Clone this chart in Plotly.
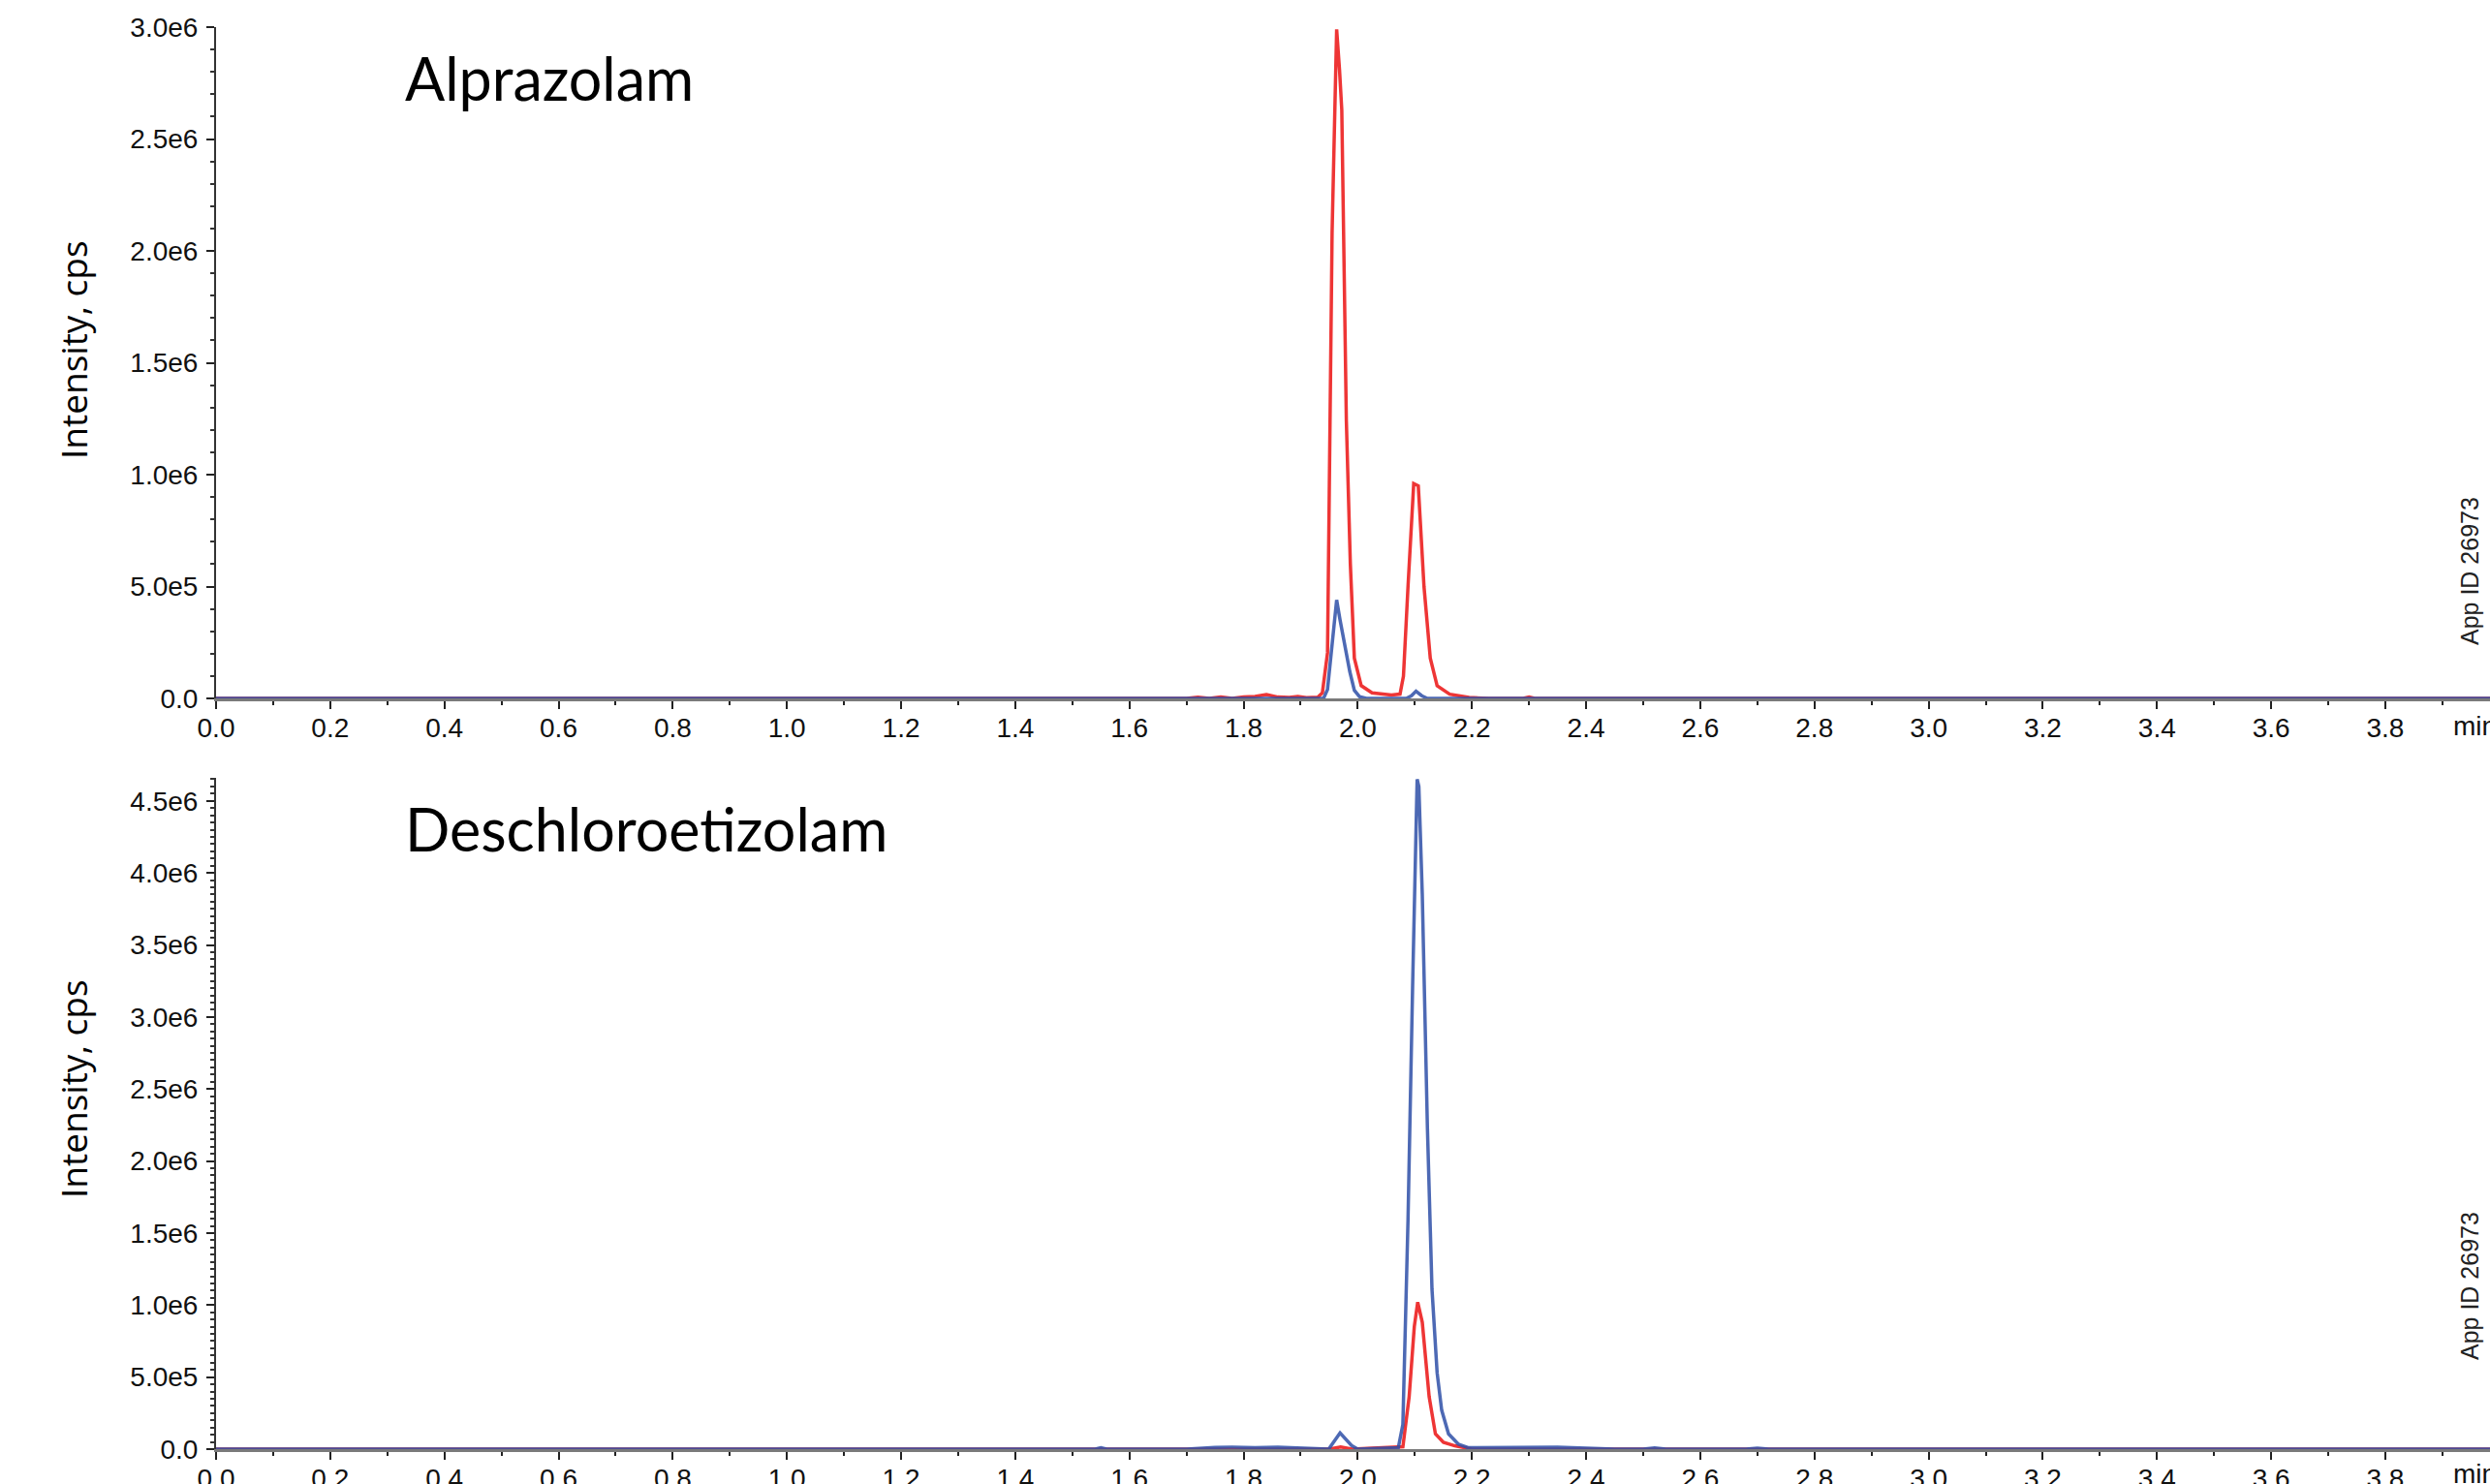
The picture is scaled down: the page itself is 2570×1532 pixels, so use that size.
import plotly.graph_objects as go

# ---------------- data (time in min, intensity in cps) ----------------
top_red_t = [0.00, 1.70, 1.72, 1.74, 1.76, 1.78, 1.80, 1.82, 1.84, 1.86, 1.88, 1.895, 1.91, 1.93,
             1.938, 1.947, 1.955, 1.963, 1.968, 1.972, 1.980, 1.987, 1.994, 2.006, 2.025, 2.059,
             2.074, 2.080, 2.088, 2.098, 2.106, 2.116, 2.127, 2.139, 2.161, 2.195, 2.23, 2.29,
             2.30, 2.31, 4.00]
top_red_v = [0, 0, 5000, 0, 6000, 0, 7000, 9000, 17000, 6000, 4000, 9000, 3000, 5000,
             25000, 204000, 2080000, 2990000, 2810000, 2630000, 1240000, 600000, 180000, 57000, 25000, 15000,
             19000, 99000, 500000, 960000, 950000, 500000, 180000, 57000, 19000, 4000, 0, 0,
             6000, 0, 0]

top_blue_t = [0.00, 1.940, 1.947, 1.955, 1.963, 1.969, 1.977, 1.986, 1.994, 2.003, 2.015,
              2.085, 2.094, 2.102, 2.112, 2.122, 4.00]
top_blue_v = [0, 0, 40000, 225000, 440000, 350000, 246000, 120000, 36000, 8000, 0,
              0, 12000, 32000, 12000, 0, 0]

bot_blue_t = [0.00, 1.54, 1.55, 1.56, 1.70, 1.72, 1.75, 1.78, 1.82, 1.86, 1.90, 1.949, 1.969, 1.989,
              2.00, 2.071, 2.079, 2.088, 2.096, 2.104, 2.107, 2.113, 2.122, 2.130, 2.139, 2.147,
              2.159, 2.176, 2.193, 2.25, 2.30, 2.35, 2.40, 2.45, 2.50, 2.52, 2.54, 2.60, 2.68,
              2.70, 2.72, 4.00]
bot_blue_v = [0, 0, 9000, 0, 0, 7000, 12000, 14000, 10000, 14000, 8000, 0, 113000, 26000,
              0, 10000, 171000, 1590000, 3200000, 4650000, 4600000, 3850000, 2230000, 1110000, 530000, 270000,
              106000, 35000, 10000, 12000, 8000, 14000, 6000, 0, 0, 8000, 0, 0, 0,
              7000, 0, 0]

bot_red_t = [0.00, 1.95, 1.97, 1.99, 2.079, 2.090, 2.099, 2.105, 2.113, 2.125, 2.136, 2.150,
             2.170, 2.20, 4.00]
bot_red_v = [0, 0, 15000, 0, 16000, 364000, 850000, 1020000, 880000, 364000, 106000, 48000,
             23000, 0, 0]

x_tickvals = [0.0, 0.2, 0.4, 0.6, 0.8, 1.0, 1.2, 1.4, 1.6, 1.8, 2.0, 2.2, 2.4, 2.6, 2.8,
              3.0, 3.2, 3.4, 3.6, 3.8]
x_ticktext = ["0.0", "0.2", "0.4", "0.6", "0.8", "1.0", "1.2", "1.4", "1.6", "1.8", "2.0",
              "2.2", "2.4", "2.6", "2.8", "3.0", "3.2", "3.4", "3.6", "3.8"]
top_y_tickvals = [0, 5e5, 1e6, 1.5e6, 2e6, 2.5e6, 3e6]
top_y_ticktext = ["0.0", "5.0e5", "1.0e6", "1.5e6", "2.0e6", "2.5e6", "3.0e6"]
bot_y_tickvals = [0, 5e5, 1e6, 1.5e6, 2e6, 2.5e6, 3e6, 3.5e6, 4e6, 4.5e6]
bot_y_ticktext = ["0.0", "5.0e5", "1.0e6", "1.5e6", "2.0e6", "2.5e6", "3.0e6", "3.5e6",
                  "4.0e6", "4.5e6"]

panel_names = ["Alprazolam", "Deschloroetizolam"]
y_title = "Intensity, cps"
app_id = "App ID 26973"
x_unit = "min"

# ---------------- styling ----------------
W, H = 2570, 1532
RED = "#ee3535"
BLUE = "#2e4fa8"
AXIS_LEFT = 223
X_RIGHT_T = (W - AXIS_LEFT) / 589.2

fig = go.Figure()
for t, v, c, xa, ya, op in [
    (top_red_t, top_red_v, RED, "x", "y", 1.0),
    (top_blue_t, top_blue_v, BLUE, "x", "y", 0.85),
    (bot_red_t, bot_red_v, RED, "x2", "y2", 1.0),
    (bot_blue_t, bot_blue_v, BLUE, "x2", "y2", 0.85),
]:
    fig.add_trace(go.Scatter(x=t, y=v, mode="lines", xaxis=xa, yaxis=ya, opacity=op,
                             line=dict(color=c, width=3.5), showlegend=False,
                             hoverinfo="skip"))

tick_font = dict(family="Liberation Sans, Arial, sans-serif", size=28, color="#111111")

def xaxis_cfg(anchor):
    return dict(domain=[AXIS_LEFT / W, 1.0], range=[0, X_RIGHT_T], anchor=anchor,
                showgrid=False, zeroline=False, showline=True, linecolor="#7a7a7a",
                linewidth=3, ticks="outside", ticklen=8, tickwidth=2, tickcolor="#222222",
                tickmode="array", tickvals=x_tickvals, ticktext=x_ticktext,
                tickfont=tick_font, ticklabelstandoff=-5,
                minor=dict(tickmode="linear", tick0=0, dtick=0.1, ticks="outside",
                           ticklen=4, tickwidth=2, tickcolor="#222222", showgrid=False),
                automargin=False, fixedrange=True)

def yaxis_cfg(anchor, dom, rng, tv, tt, mdt):
    return dict(domain=dom, range=rng, anchor=anchor, showgrid=False, zeroline=False,
                showline=True, linecolor="#333333", linewidth=2, ticks="outside",
                ticklen=8, tickwidth=2, tickcolor="#222222", tickmode="array",
                tickvals=tv, ticktext=tt, tickfont=tick_font, ticklabelstandoff=3,
                minor=dict(tickmode="linear", tick0=0, dtick=mdt, ticks="outside",
                           ticklen=4, tickwidth=2, tickcolor="#333333", showgrid=False),
                automargin=False, fixedrange=True)

fig.update_layout(
    width=W, height=H,
    margin=dict(l=0, r=0, t=0, b=0),
    paper_bgcolor="white", plot_bgcolor="white",
    xaxis=xaxis_cfg("y"),
    xaxis2=xaxis_cfg("y2"),
    yaxis=yaxis_cfg("x", [1 - 721 / H, 1 - 28 / H], [0, 3.0e6],
                    top_y_tickvals, top_y_ticktext, 1e5),
    yaxis2=yaxis_cfg("x2", [1 - 1496 / H, 1 - 803 / H], [0, 4.66e6],
                     bot_y_tickvals, bot_y_ticktext, 5e4),
)

ann = []
for name, yc in zip(panel_names, [80, 855]):
    ann.append(dict(text=name, xref="paper", yref="paper", x=416 / W, y=1 - yc / H,
                    xanchor="left", yanchor="middle", showarrow=False,
                    font=dict(family="Lato, Carlito, sans-serif", size=61, color="black")))
for yc in [361, 1124]:
    ann.append(dict(text=y_title, xref="paper", yref="paper", x=75 / W, y=1 - yc / H,
                    xanchor="center", yanchor="middle", textangle=-90, showarrow=False,
                    font=dict(family="Open Sans, sans-serif", size=37, color="black")))
for yc in [590, 1328]:
    ann.append(dict(text=app_id, xref="paper", yref="paper", x=2549 / W, y=1 - yc / H,
                    xanchor="center", yanchor="middle", textangle=-90, showarrow=False,
                    font=dict(family="Liberation Sans, Arial, sans-serif", size=25,
                              color="#222222")))
for xr, yc in [("x", 749), ("x2", 1521)]:
    ann.append(dict(text=x_unit, xref=xr, yref="paper", x=3.915, y=1 - yc / H,
                    xanchor="left", yanchor="middle", showarrow=False,
                    font=tick_font))
fig.update_layout(annotations=ann)

fig.write_html("out.html", config={"displayModeBar": False},
               post_script="document.body.style.margin='0px';document.body.style.overflow='hidden';")
